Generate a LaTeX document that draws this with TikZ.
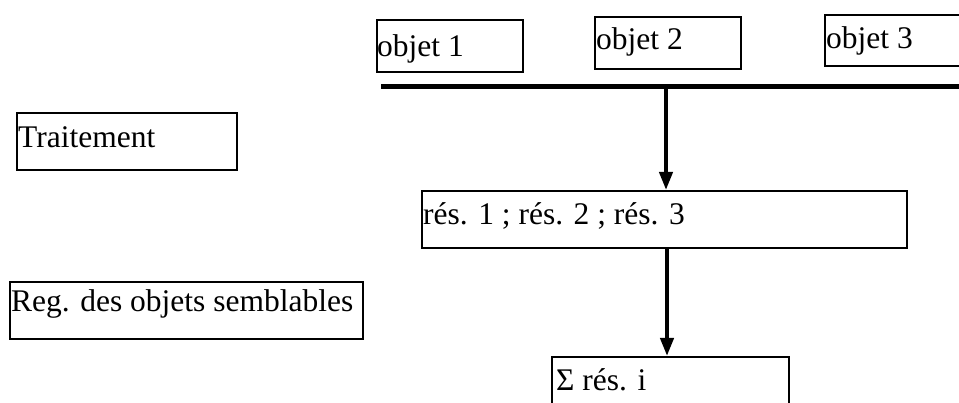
\documentclass[tikz,border=0pt]{standalone}
\usepackage{fontspec}
\setmainfont{Liberation Serif}
\usetikzlibrary{arrows.meta}

\tikzset{
  box/.style={draw=black, line width=2pt, rectangle, inner sep=0pt, anchor=north west},
  lbl/.style={anchor=base west, inner sep=0pt, font=\fontsize{31.5}{37}\selectfont},
  bus/.style={line width=5pt},
  flow/.style={line width=4pt, -{Triangle[length=18pt,width=13pt]}},
}

\begin{document}
\begin{tikzpicture}[x=1pt, y=-1pt]
  \useasboundingbox (0,0) rectangle (959,403);

  % object boxes along the top
  \node[box, minimum width=146pt, minimum height=52pt] (o1) at (376,19) {};
  \node[box, minimum width=146pt, minimum height=52pt] (o2) at (594,16) {};
  \node[box, minimum width=160pt, minimum height=51pt] (o3) at (824,14) {};
  \node[lbl] (t1) at (377,57) {objet 1};
  \node[lbl] (t2) at (596,50) {objet 2};
  \node[lbl] (t3) at (826,49) {objet 3};

  % side labels
  \node[box, minimum width=220pt, minimum height=57pt] (trait) at (16,112) {};
  \node[lbl] (ttrait) at (18,148) {Traitement};
  \node[box, minimum width=353pt, minimum height=57pt] (reg) at (9,281) {};
  \node[lbl] (treg) at (11,312) {Reg. des objets semblables};

  % result boxes
  \node[box, minimum width=485pt, minimum height=57pt] (res) at (421,190) {};
  \node[lbl] (tres) at (423,225) {rés. 1 ; rés. 2 ; rés. 3};
  \node[box, minimum width=237pt, minimum height=70pt] (sum) at (551,356) {};
  \node[lbl] (tsum) at (556,391) {Σ rés. i};

  % bus line and arrows
  \coordinate (busL) at (381,87);
  \coordinate (busR) at (975,87);
  \coordinate (tap) at (666,87);
  \draw[bus] (busL) -- (busR);
  \draw[flow] (tap) -- (tap |- res.north);
  \coordinate (tap2) at (667,247);
  \draw[flow] (tap2 |- res.south) -- (tap2 |- sum.north);
\end{tikzpicture}
\end{document}
